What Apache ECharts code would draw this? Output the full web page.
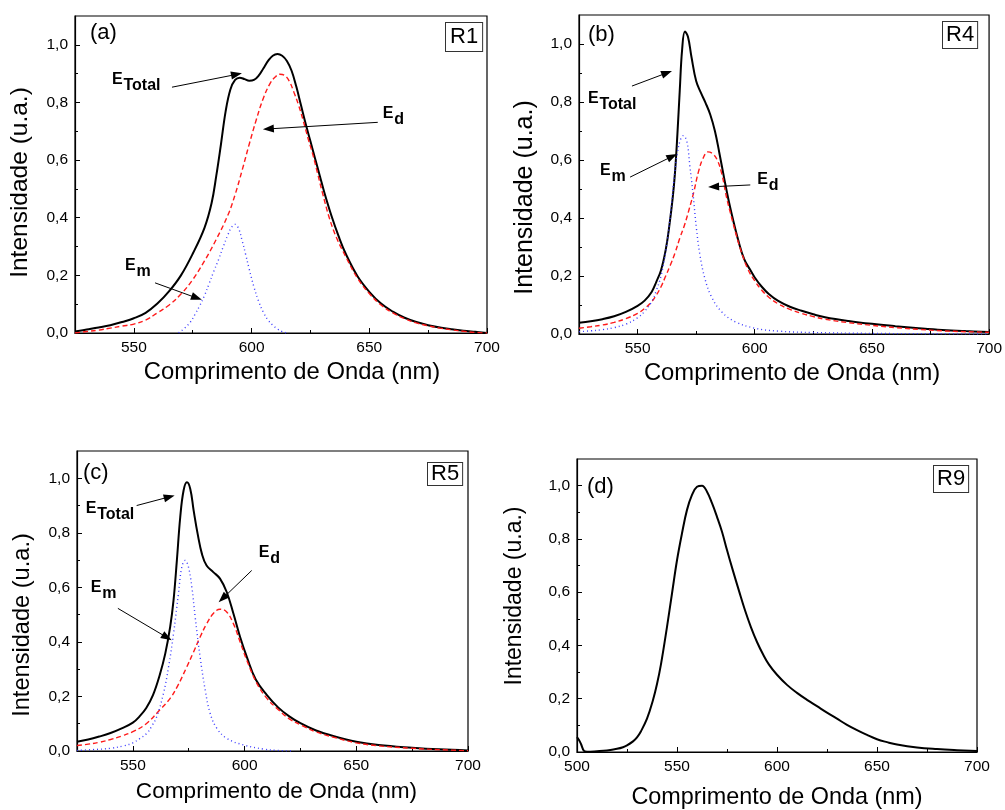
<!DOCTYPE html>
<html>
<head>
<meta charset="utf-8">
<title>Espectros de emissão</title>
<script src="https://cdn.jsdelivr.net/npm/echarts@6/dist/echarts.min.js"></script>
<style>
  html, body { margin: 0; padding: 0; background: #fff; }
  #chart { width: 1005px; height: 810px; }
</style>
</head>
<body>
<div id="chart"></div>
<script>
// ---------- Amostra R1 (a) ----------
const aTotalX = [525,530,535,540,545,550,555,560,565,570,575,580,583,585,587,589,591,593,595,597,599,601,603,605,607,609,611,613,615,617,619,621,623,625,627,629,631,634,637,640,645,650,655,660,665,670,675,680,685,690,695,700];
const aTotalY = [0.005,0.012,0.019,0.027,0.038,0.051,0.07,0.102,0.145,0.2,0.275,0.365,0.45,0.545,0.655,0.77,0.845,0.878,0.886,0.881,0.875,0.878,0.893,0.918,0.944,0.962,0.968,0.962,0.944,0.91,0.855,0.79,0.725,0.665,0.605,0.545,0.485,0.405,0.335,0.275,0.197,0.143,0.102,0.074,0.053,0.038,0.027,0.019,0.013,0.008,0.004,0];
const aDipX = [525,530,535,540,545,550,555,560,565,570,575,580,585,590,593,596,599,602,605,608,610,612,614,616,618,620,622,624,626,628,630,633,636,640,645,650,655,660,665,670,675,680,685,690,695,700];
const aDipY = [0,0.005,0.01,0.017,0.024,0.031,0.045,0.07,0.097,0.135,0.185,0.25,0.325,0.41,0.48,0.565,0.655,0.74,0.815,0.868,0.888,0.898,0.894,0.874,0.835,0.79,0.735,0.675,0.62,0.555,0.49,0.4,0.332,0.265,0.19,0.137,0.097,0.07,0.05,0.035,0.025,0.017,0.011,0.006,0.002,0];
const aMonoX = [569,572,574,576,578,580,582,584,586,588,590,591.5,593,594.5,596,597.5,599,601,603,605,607,609,611,613,615];
const aMonoY = [0,0.02,0.038,0.065,0.095,0.13,0.172,0.215,0.255,0.3,0.342,0.367,0.377,0.362,0.32,0.272,0.222,0.16,0.11,0.072,0.045,0.027,0.014,0.005,0];

// ---------- Amostra R4 (b) ----------
const bTotalX = [525,530,535,540,545,550,553,556,558,560,562,563.5,565,566,567,568,569,570.2,571.5,573,575,577,579,581,583,585,587,589,591,593,595.5,598,600,603,606,610,615,620,625,630,640,650,660,670,680,690,700];
const bTotalY = [0.039,0.044,0.051,0.061,0.076,0.097,0.115,0.145,0.18,0.22,0.29,0.37,0.47,0.56,0.69,0.84,0.98,1.043,1.025,0.955,0.872,0.832,0.797,0.757,0.7,0.62,0.535,0.455,0.385,0.322,0.258,0.222,0.195,0.163,0.138,0.114,0.094,0.08,0.068,0.058,0.045,0.035,0.027,0.02,0.014,0.01,0.007];
const bDipX = [525,530,535,540,545,550,553,556,558,560,562,564,566,568,570,572,574,576,578,580,582,584,586,588,590,592,594,597,600,603,606,610,615,620,625,630,640,650,660,670,680,690,700];
const bDipY = [0.02,0.025,0.031,0.04,0.053,0.071,0.088,0.111,0.134,0.163,0.2,0.238,0.28,0.33,0.375,0.43,0.49,0.56,0.607,0.628,0.622,0.6,0.55,0.47,0.405,0.345,0.29,0.225,0.183,0.151,0.127,0.104,0.085,0.071,0.06,0.051,0.039,0.03,0.022,0.016,0.011,0.008,0.006];
const bMonoX = [525,530,535,540,545,550,553,556,558,560,562,564,565.5,567,568.3,569.5,571,572.3,573.7,575.1,576.6,578.7,581.5,585.8,591.5,600,610,625,650,675,700];
const bMonoY = [0.008,0.011,0.015,0.022,0.034,0.056,0.078,0.111,0.15,0.2,0.285,0.41,0.53,0.625,0.67,0.684,0.665,0.58,0.48,0.365,0.273,0.192,0.129,0.077,0.043,0.02,0.01,0.005,0.002,0.001,0];

// ---------- Amostra R5 (c) ----------
const cTotalX = [525,530,535,540,545,550,553,556,559,562,564.5,566.7,568.2,569.7,571.2,572.7,574.2,575.7,577.2,579,581,583,586,589,592,595,598,601,605,610,615,620,625,632,640,650,660,675,687,700];
const cTotalY = [0.034,0.042,0.053,0.066,0.083,0.104,0.127,0.158,0.205,0.278,0.357,0.455,0.552,0.699,0.857,0.955,0.985,0.961,0.882,0.796,0.72,0.68,0.656,0.632,0.583,0.504,0.418,0.345,0.262,0.205,0.16,0.127,0.102,0.075,0.054,0.034,0.022,0.012,0.006,0.002];
const cDipX = [525,530,535,540,545,550,556,562,566.7,570,574,577,580,583,586,589,592,595,598,601,605.5,610,614.5,620,626,632,640,650,660,675,687,700];
const cDipY = [0.02,0.025,0.032,0.042,0.055,0.071,0.1,0.15,0.193,0.238,0.306,0.36,0.416,0.466,0.504,0.52,0.51,0.467,0.4,0.333,0.248,0.193,0.156,0.118,0.092,0.07,0.05,0.03,0.019,0.01,0.005,0.001];
const cMonoX = [525,532,540,546,550,553,556.3,558.5,560.7,563.7,566,568.2,570.4,571.9,573.4,574.9,576.4,577.9,580.1,582.4,584.6,587.6,592.1,599.6,608.5,614.5,622];
const cMonoY = [0.002,0.005,0.01,0.019,0.03,0.045,0.065,0.092,0.126,0.211,0.309,0.43,0.577,0.674,0.699,0.674,0.601,0.491,0.345,0.223,0.138,0.083,0.046,0.022,0.007,0.002,0];

// ---------- Amostra R9 (d) ----------
const dX = [500,501,502,503.5,505,510,515,520,523,525,528,530,532,535,538,540,542,545,547.5,550,552.5,555,557.5,560,562.5,565,567.5,570,572.5,575,578,581,584,587,590,593,596,600,605,610,615,620,625,630,635,640,645,650,655,660,670,680,690,700];
const dY = [0.056,0.045,0.03,0.004,0.001,0.003,0.006,0.012,0.018,0.025,0.04,0.055,0.078,0.125,0.195,0.255,0.33,0.47,0.595,0.72,0.821,0.909,0.965,0.996,1.0,0.977,0.934,0.883,0.827,0.758,0.68,0.605,0.532,0.468,0.413,0.367,0.328,0.29,0.252,0.222,0.196,0.172,0.148,0.125,0.102,0.082,0.064,0.048,0.037,0.028,0.017,0.011,0.007,0.004];

// ---------- Eixos ----------
const xMajorShort = [550, 600, 650, 700];
const xMinorShort = [575, 625, 675];
const xMajorLong = [500, 550, 600, 650, 700];
const xMinorLong = [525, 575, 625, 675];
const yMajor = [0, 0.2, 0.4, 0.6, 0.8, 1.0];
const yMinor = [0.1, 0.3, 0.5, 0.7, 0.9];

const xTitle = 'Comprimento de Onda (nm)';
const yTitle = 'Intensidade (u.a.)';
const panelTags = ['(a)', '(b)', '(c)', '(d)'];
const sampleTags = ['R1', 'R4', 'R5', 'R9'];

const FONT = 'Arial, "Liberation Sans", Helvetica, sans-serif';

const zip = (xs, ys) => xs.map((x, i) => [x, ys[i]]);

// layout of the four frames
const panels = [
  { grid: {left: 75, top: 16, width: 412, height: 317}, xMin: 525, xMajor: xMajorShort, xMinor: xMinorShort,
    xFont: 23.8, yFont: 24.5, xGap: 27, yGap: 42, xPad: [0,0,0,22], yPad: [0,16,0,0],
    tag: {x: 90, y: 33}, box: {x: 446, y: 23, pad: [3,4,3,4]},
    lines: [
      {x: aTotalX, y: aTotalY, kind: 'total'},
      {x: aDipX, y: aDipY, kind: 'dip'},
      {x: aMonoX, y: aMonoY, kind: 'mono'}
    ] },
  { grid: {left: 579, top: 15, width: 411, height: 319}, xMin: 525, xMajor: xMajorShort, xMinor: xMinorShort,
    xFont: 23.8, yFont: 25, xGap: 27, yGap: 41, xPad: [0,0,0,16], yPad: [0,46,0,0],
    tag: {x: 588, y: 35}, box: {x: 943, y: 22, pad: [2,3,2,3]},
    lines: [
      {x: bTotalX, y: bTotalY, kind: 'total'},
      {x: bDipX, y: bDipY, kind: 'dip'},
      {x: bMonoX, y: bMonoY, kind: 'mono'}
    ] },
  { grid: {left: 77, top: 451, width: 391, height: 300}, xMin: 525, xMajor: xMajorShort, xMinor: xMinorShort,
    xFont: 22.6, yFont: 23.6, xGap: 29, yGap: 43, xPad: [0,0,0,8], yPad: [0,48,0,0],
    tag: {x: 83, y: 473}, box: {x: 428, y: 463, pad: [0,3,0,3]},
    lines: [
      {x: cTotalX, y: cTotalY, kind: 'total'},
      {x: cDipX, y: cDipY, kind: 'dip'},
      {x: cMonoX, y: cMonoY, kind: 'mono'}
    ] },
  { grid: {left: 577, top: 459, width: 400, height: 293}, xMin: 500, xMajor: xMajorLong, xMinor: xMinorLong,
    xFont: 23.4, yFont: 23, xGap: 34, yGap: 51, xPad: [0,0,0,0], yPad: [0,0,0,19],
    tag: {x: 587, y: 487}, box: {x: 934, y: 466, pad: [2,3,2,3]},
    lines: [
      {x: dX, y: dY, kind: 'total'}
    ] }
];

const lineStyles = {
  total: {color: '#000000', width: 2, type: 'solid'},
  dip:   {color: '#ff1a1a', width: 1.4, type: [5, 3]},
  mono:  {color: '#3b3bff', width: 1.4, type: [1, 3]}
};

const grids = [], xAxes = [], yAxes = [], series = [];
const firstSeriesOfPanel = [];

panels.forEach((p, i) => {
  grids.push(Object.assign({show: true, borderColor: '#000', borderWidth: 1.2, backgroundColor: 'transparent', containLabel: false}, p.grid));

  // main x axis
  xAxes.push({
    type: 'value', gridIndex: i, min: p.xMin, max: 700, position: 'bottom',
    axisLine: {show: true, onZero: false, lineStyle: {color: '#000', width: 1.2}},
    axisTick: {show: true, inside: true, length: 5, customValues: p.xMajor, lineStyle: {color: '#000', width: 1}},
    axisLabel: {show: true, customValues: p.xMajor, color: '#000', fontSize: 15.5, fontFamily: FONT, margin: 7,
                formatter: v => String(v)},
    splitLine: {show: false},
    name: xTitle, nameLocation: 'middle', nameGap: p.xGap,
    nameTextStyle: {fontSize: p.xFont, color: '#000', fontFamily: FONT, padding: p.xPad}
  });
  // minor x ticks
  xAxes.push({
    type: 'value', gridIndex: i, min: p.xMin, max: 700, position: 'bottom',
    axisLine: {show: false}, axisLabel: {show: false}, splitLine: {show: false},
    axisTick: {show: true, inside: true, length: 3, customValues: p.xMinor, lineStyle: {color: '#000', width: 1}}
  });
  // main y axis
  yAxes.push({
    type: 'value', gridIndex: i, min: 0, max: 1.1, position: 'left',
    axisLine: {show: true, onZero: false, lineStyle: {color: '#000', width: 1.2}},
    axisTick: {show: true, inside: true, length: 5, customValues: yMajor, lineStyle: {color: '#000', width: 1}},
    axisLabel: {show: true, customValues: yMajor, color: '#000', fontSize: 15.5, fontFamily: FONT, margin: 7,
                formatter: v => v.toFixed(1).replace('.', ',')},
    splitLine: {show: false},
    name: yTitle, nameLocation: 'middle', nameGap: p.yGap,
    nameTextStyle: {fontSize: p.yFont, color: '#000', fontFamily: FONT, padding: p.yPad}
  });
  // minor y ticks
  yAxes.push({
    type: 'value', gridIndex: i, min: 0, max: 1.1, position: 'left',
    axisLine: {show: false}, axisLabel: {show: false}, splitLine: {show: false},
    axisTick: {show: true, inside: true, length: 3, customValues: yMinor, lineStyle: {color: '#000', width: 1}}
  });

  firstSeriesOfPanel.push(series.length);
  p.lines.forEach(l => {
    const st = lineStyles[l.kind];
    series.push({
      type: 'line', xAxisIndex: 2 * i, yAxisIndex: 2 * i,
      data: zip(l.x, l.y), showSymbol: false, smooth: 0.4,
      lineStyle: {color: st.color, width: st.width, type: st.type},
      emphasis: {disabled: true}, silent: true
    });
  });
});

const chart = echarts.init(document.getElementById('chart'), null, {renderer: 'canvas'});
chart.setOption({
  animation: false,
  backgroundColor: '#ffffff',
  grid: grids, xAxis: xAxes, yAxis: yAxes, series: series
});

// ---------- Anotações: rótulos E com subscrito e setas ----------
// positions are given in the data space of each panel
const notes = [
  // panel, label anchor [nm, intensity], subscript, arrow start, arrow tip
  {panel: 0, at: [540.7, 0.881], sub: 'Total', from: [566.2, 0.853], to: [595.9, 0.901]},
  {panel: 0, at: [655.7, 0.762], sub: 'd',     from: [653.6, 0.731], to: [604.8, 0.707]},
  {panel: 0, at: [546.2, 0.233], sub: 'm',     from: [559.0, 0.174], to: [578.9, 0.115]},
  {panel: 1, at: [528.8, 0.812], sub: 'Total', from: [547.6, 0.855], to: [564.7, 0.907]},
  {panel: 1, at: [534.0, 0.562], sub: 'm',     from: [546.8, 0.541], to: [566.9, 0.621]},
  {panel: 1, at: [601.1, 0.534], sub: 'd',     from: [598.1, 0.514], to: [580.1, 0.507]},
  {panel: 2, at: [528.9, 0.887], sub: 'Total', from: [551.7, 0.900], to: [568.7, 0.937]},
  {panel: 2, at: [606.3, 0.726], sub: 'd',     from: [603.2, 0.662], to: [588.4, 0.545]},
  {panel: 2, at: [531.1, 0.598], sub: 'm',     from: [543.3, 0.523], to: [567.4, 0.406]}
];

const toPx = (panel, pt) => chart.convertToPixel({seriesIndex: firstSeriesOfPanel[panel]}, pt);

function arrow(p1, p2) {
  const dx = p2[0] - p1[0], dy = p2[1] - p1[1];
  const L = Math.hypot(dx, dy), ux = dx / L, uy = dy / L;
  const hl = 11, hw = 4;
  const bx = p2[0] - ux * hl, by = p2[1] - uy * hl;
  return [
    {type: 'line', silent: true, z: 10,
     shape: {x1: p1[0], y1: p1[1], x2: bx + ux * 1, y2: by + uy * 1},
     style: {stroke: '#000', lineWidth: 1}},
    {type: 'polygon', silent: true, z: 10,
     shape: {points: [[p2[0], p2[1]], [bx - uy * hw, by + ux * hw], [bx + uy * hw, by - ux * hw]]},
     style: {fill: '#000'}}
  ];
}

function textEl(x, y, text, font, extra) {
  return Object.assign({
    type: 'text', x: x, y: y, silent: true, z: 10,
    style: Object.assign({text: text, font: font, fill: '#000',
      align: 'left', textAlign: 'left', verticalAlign: 'middle', textVerticalAlign: 'middle'}, extra || {})
  });
}

const graphics = [];
const boldFont = 'bold 16px ' + FONT;
notes.forEach(n => {
  const a = toPx(n.panel, n.at);
  graphics.push(textEl(a[0], a[1], 'E', boldFont));
  graphics.push(textEl(a[0] + 11.5, a[1] + 6, n.sub, boldFont));
  graphics.push(...arrow(toPx(n.panel, n.from), toPx(n.panel, n.to)));
});

panels.forEach((p, i) => {
  graphics.push(textEl(p.tag.x, p.tag.y, panelTags[i], '22px ' + FONT));
  graphics.push({
    type: 'text', x: p.box.x, y: p.box.y, silent: true, z: 10,
    style: {text: sampleTags[i], font: '22px ' + FONT, fill: '#000',
      align: 'left', textAlign: 'left', verticalAlign: 'top', textVerticalAlign: 'top',
      padding: p.box.pad, borderColor: '#333', borderWidth: 1, backgroundColor: '#fff'}
  });
});

chart.setOption({graphic: {elements: graphics}});
</script>
</body>
</html>
